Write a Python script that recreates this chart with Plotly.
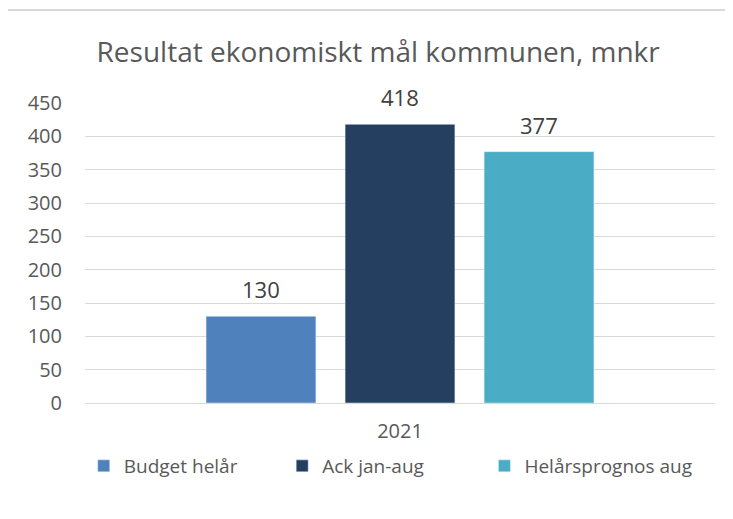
import plotly.graph_objects as go

years = ["2021"]
series = ["Budget helår", "Ack jan-aug", "Helårsprognos aug"]
values = [[130], [418], [377]]
colors = ["#4F81BD", "#243F60", "#4BACC6"]
y_ticks = [0, 50, 100, 150, 200, 250, 300, 350, 400, 450]

font = "Open Sans, Arial"
bargap = 0.338
groupgap = 0.21

# one legend per series so the entries can be spaced like in Excel
legends = ["legend", "legend2", "legend3"]
legend_x = [-0.002, 0.313, 0.634]

fig = go.Figure()
for name, vals, col, lg in zip(series, values, colors, legends):
    fig.add_trace(go.Bar(x=years, y=vals, name=name, marker_color=col, legend=lg))

# value labels above bars (Excel puts them a bit higher than plotly does)
slot = (1 - bargap) / len(series)
for i, vals in enumerate(values):
    for j, v in enumerate(vals):
        fig.add_annotation(x=j + (i - (len(series) - 1) / 2) * slot, y=v,
                           xref="x", yref="y", text=str(v), showarrow=False,
                           yanchor="middle", yshift=27,
                           font=dict(size=22, color="#404040", family=font))

# the page adds an 8px body margin, so margins are reduced by 8
fig.update_layout(
    width=733, height=519,
    margin=dict(l=77, r=26, t=95, b=124),
    paper_bgcolor="white", plot_bgcolor="white",
    font=dict(family=font, color="#595959", size=20),
    title=dict(text="Resultat ekonomiskt mål kommunen, mnkr",
               x=0.505, xanchor="center", y=0.915, yanchor="middle",
               font=dict(size=28, color="#595959", family=font)),
    barmode="group", bargap=bargap, bargroupgap=groupgap,
    showlegend=True,
)
for lg, lx in zip(legends, legend_x):
    fig.update_layout({lg: dict(orientation="h", x=lx, xanchor="left",
                                y=-0.21, yanchor="middle", itemwidth=30,
                                font=dict(size=19, color="#595959", family=font))})

fig.update_yaxes(range=[0, 450], tickvals=y_ticks, showgrid=True,
                 gridcolor="#D9D9D9", gridwidth=1, zeroline=True,
                 zerolinecolor="#D9D9D9", zerolinewidth=1,
                 ticklabelstandoff=22, tickfont=dict(size=20))
fig.update_xaxes(showline=False, ticks="", ticklabelstandoff=14,
                 tickfont=dict(size=20))

# light outer frame of the chart area
fig.add_shape(type="rect", xref="paper", yref="paper",
              x0=-0.125, x1=1.2, y0=-0.7, y1=1.31,
              line=dict(color="#D9D9D9", width=2), fillcolor="rgba(0,0,0,0)",
              layer="below")

fig.write_html("out.html")
